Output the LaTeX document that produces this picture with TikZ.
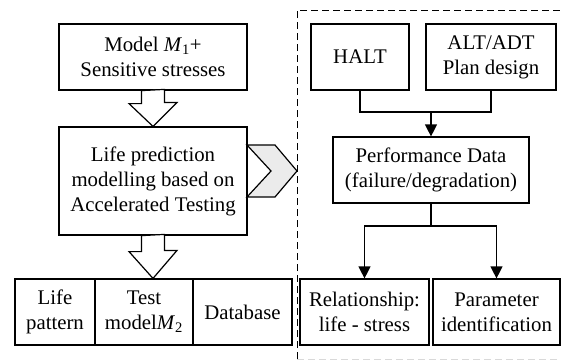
\documentclass[tikz,border=0pt]{standalone}
\usepackage{fontspec}
\setmainfont{Liberation Serif}
\usetikzlibrary{arrows.meta,calc}
\newcommand\subs[1]{\textsubscript{#1}}
\begin{document}
\begin{tikzpicture}[x=1pt,y=-1pt,
  box/.style={draw,line width=1.2pt,align=center,inner sep=0pt,
    font=\fontsize{20.8}{25}\selectfont},
  arr/.style={line width=1.2pt,-{Triangle[length=12pt,width=12pt]}},
  hollow/.style={draw,line width=1.2pt,fill=white,line join=miter},
  frame/.style={dashed,line width=1pt,dash pattern=on 7pt off 4pt}]
\useasboundingbox (0,0) rectangle (561,360);
% left column
\node[box,minimum width=188pt,minimum height=66pt] (m) at (153,57) {Model \textit{M}\subs{1}+\\Sensitive stresses};
\node[box,minimum width=188pt,minimum height=108pt] (l) at (153,181) {Life prediction\\modelling based on\\Accelerated Testing};
\node[box,minimum width=80pt,minimum height=66pt] (b1) at (55,312) {Life\\pattern};
\node[box,minimum width=98pt,minimum height=66pt] (b2) at (144,312) {Test\\model\textit{M}\subs{2}};
\node[box,minimum width=99pt,minimum height=66pt] (b3) at (242.5,312) {Database};
% hollow arrows
\draw[hollow] ($(m.south)+(-11.5,0)$) -- ++(0,13) -- ++(-12.5,0) -- (l.north) -- ++(24,-24) -- ++(-12.5,0) -- ++(0,-13) -- cycle;
\draw[hollow] ($(l.south)+(-11.5,0)$) -- ++(0,16) -- ++(-12.5,0) -- (b2.north -| l.south) -- ++(24,-28) -- ++(-12.5,0) -- ++(0,-16) -- cycle;
% chevron
\coordinate (ch) at (297,171);
\draw[line width=1.2pt,fill=black!8,line join=miter] (247,145) -- (275,145) -- (ch) -- (275,197) -- (247,197) -- (271,171) -- cycle;
% dashed frame
\draw[frame] (297,359) -- (297,10) -- (563,10);
\draw[frame,black!15] (297,359) -- (563,359);
% right column
\node[box,minimum width=98pt,minimum height=66pt] (h) at (360,57) {HALT};
\node[box,minimum width=130pt,minimum height=66pt] (a) at (491,57) {ALT/ADT\\Plan design};
\node[box,minimum width=196pt,minimum height=66pt] (p) at (431,170) {Performance Data\\(failure/degradation)};
\node[box,minimum width=129pt,minimum height=66pt] (r) at (364.5,312) {Relationship:\\life - stress};
\node[box,minimum width=127pt,minimum height=66pt] (q) at (496.5,312) {Parameter\\identification};
\coordinate (j1) at (431,112);
\coordinate (j2) at (431,226);
\draw[line width=1.2pt] (h.south) |- (j1) -| (a.south);
\draw[arr] (j1) -- (p.north);
\draw[line width=1.2pt] (p.south) -- (j2);
\draw[arr] (j2) -| (r.north);
\draw[arr] (j2) -| (q.north);
\end{tikzpicture}
\end{document}
